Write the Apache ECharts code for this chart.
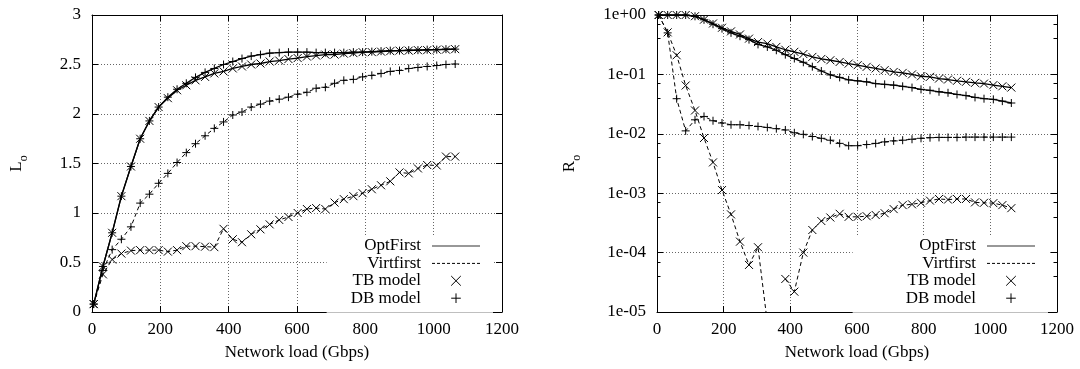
<!DOCTYPE html>
<html><head><meta charset="utf-8">
<script src="https://cdn.jsdelivr.net/npm/echarts@6/dist/echarts.min.js"></script>
<style>html,body{margin:0;padding:0;background:#fff}#c{width:1080px;height:369px}</style>
</head><body><div id="c"></div>
<script>
// ---- data ----
const loads = [5,32,59,86,114,141,168,195,222,249,276,303,331,358,385,412,439,466,493,520,548,575,602,629,656,683,710,737,765,792,819,846,873,900,927,954,981,1009,1036,1063];
const xTicks = [0,200,400,600,800,1000,1200];
const lTicks = [0,0.5,1,1.5,2,2.5,3];
const rTicks = [1e-5,1e-4,1e-3,1e-2,1e-1,1];
const rTickLabels = ['1e-05','1e-04','1e-03','1e-02','1e-01','1e+00'];
const legendNames = ['OptFirst','Virtfirst','TB model','DB model'];

const L_opt_tb = [0.08,0.46,0.80,1.17,1.47,1.75,1.93,2.07,2.16,2.24,2.29,2.34,2.375,2.41,2.43,2.46,2.48,2.50,2.51,2.53,2.54,2.555,2.565,2.58,2.59,2.60,2.60,2.61,2.615,2.625,2.625,2.63,2.635,2.64,2.64,2.645,2.645,2.65,2.65,2.655];
const L_opt_db = [0.08,0.46,0.80,1.17,1.47,1.75,1.93,2.07,2.17,2.25,2.31,2.37,2.42,2.46,2.50,2.53,2.56,2.585,2.60,2.615,2.62,2.625,2.625,2.625,2.62,2.62,2.62,2.62,2.625,2.625,2.63,2.635,2.64,2.64,2.645,2.645,2.65,2.65,2.655,2.655];
const L_virt_tb = [0.08,0.38,0.53,0.59,0.62,0.625,0.625,0.625,0.61,0.625,0.665,0.665,0.66,0.655,0.84,0.735,0.705,0.785,0.835,0.885,0.93,0.96,1.00,1.04,1.05,1.04,1.105,1.14,1.17,1.20,1.24,1.28,1.32,1.41,1.40,1.45,1.485,1.48,1.57,1.57];
const L_virt_db = [0.08,0.42,0.63,0.735,0.86,1.10,1.19,1.30,1.40,1.51,1.61,1.70,1.78,1.855,1.92,1.99,2.02,2.07,2.10,2.13,2.15,2.17,2.20,2.22,2.26,2.27,2.31,2.34,2.35,2.375,2.39,2.41,2.43,2.44,2.46,2.47,2.48,2.49,2.50,2.505];

const R_opt_tb = [1,1,1,1,0.955,0.835,0.72,0.61,0.53,0.47,0.40,0.35,0.33,0.29,0.26,0.24,0.22,0.197,0.182,0.173,0.162,0.152,0.143,0.134,0.126,0.118,0.110,0.106,0.100,0.093,0.091,0.085,0.082,0.078,0.075,0.072,0.070,0.066,0.063,0.060];
const R_opt_db = [1,1,1,1,0.95,0.83,0.70,0.59,0.50,0.44,0.385,0.32,0.29,0.255,0.215,0.185,0.16,0.135,0.114,0.098,0.089,0.081,0.078,0.075,0.070,0.068,0.066,0.063,0.060,0.056,0.054,0.051,0.049,0.046,0.044,0.041,0.039,0.038,0.0355,0.033];
const R_virt_tb = [1.0,0.51,0.21,0.065,0.0247,0.0085,0.0033,0.00113,4.4e-4,1.53e-4,6.2e-5,1.23e-4,6.6e-6,null,3.6e-5,2.2e-5,1.0e-4,2.4e-4,3.4e-4,3.9e-4,4.5e-4,4.0e-4,4.0e-4,4.1e-4,4.3e-4,4.6e-4,5.4e-4,6.3e-4,6.5e-4,6.9e-4,7.5e-4,8.0e-4,7.8e-4,8.0e-4,8.0e-4,7.0e-4,6.9e-4,6.8e-4,6.3e-4,5.6e-4];
const R_virt_db = [1.0,0.50,0.039,0.0112,0.0172,0.0196,0.0166,0.0152,0.0142,0.0142,0.0138,0.0133,0.0128,0.0122,0.0116,0.0104,0.0098,0.0090,0.0084,0.0078,0.0069,0.0063,0.0063,0.0066,0.0069,0.0073,0.0076,0.0078,0.0081,0.0084,0.0086,0.0087,0.0087,0.0087,0.0088,0.0088,0.0088,0.0088,0.0088,0.0088];

// ---- styling ----
const FONT = 'Liberation Serif';
const CROSS = 'path://M0,0L10,10M10,0L0,10';
const PLUS = 'path://M5,0L5,10M0,5L10,5';
const DASH = [4,3];
const GRIDLINE = {show:true, lineStyle:{color:'#666', width:1, type:[1,2]}};

function pairs(ys){ return loads.map((x,i)=>[x, ys[i]]); }
function ser(name, ys, g, dashed, mark){
  return {type:'line', name:name, xAxisIndex:g*2, yAxisIndex:g*2, data:pairs(ys),
    symbol:mark, symbolSize:8, showSymbol:true, showAllSymbol:true, clip:true,
    lineStyle:{color:'#000', width: dashed?1:1.3, type: dashed?DASH:'solid'},
    itemStyle:{color:'#000', borderColor:'#000', borderWidth:1},
    emphasis:{disabled:true}, silent:true, z:3};
}
function dummy(name, opts){
  return Object.assign({type:'line', name:name, data:[], xAxisIndex:0, yAxisIndex:0, silent:true,
    itemStyle:{color:'#000', borderColor:'#000', borderWidth:1}}, opts);
}
const labelStyle = {fontFamily:FONT, fontSize:17, color:'#000'};
const tick = {show:true, inside:true, length:6, lineStyle:{color:'#000', width:1}};
const axisLine = {show:true, onZero:false, lineStyle:{color:'#000', width:1}};

function xAx(g, top){
  const a = {gridIndex:g, type:'value', min:xTicks[0], max:xTicks[xTicks.length-1], interval:xTicks[1]-xTicks[0],
    position: top?'top':'bottom', axisLine:axisLine, axisTick:tick, splitLine: top?{show:false}:GRIDLINE,
    axisLabel: top?{show:false}:Object.assign({margin:9, formatter:function(v){
      const i = xTicks.indexOf(v); return i>=0 ? String(xTicks[i]) : ''; }}, labelStyle)};
  if(!top){ a.name='Network load (Gbps)'; a.nameLocation='middle'; a.nameGap=32; a.nameTextStyle=labelStyle; }
  return a;
}
function yName(letter, gap){
  return {name:'{l|'+letter+'}{s|o}', nameLocation:'middle', nameRotate:90, nameGap:gap,
    nameTextStyle:{fontFamily:FONT, fontSize:17, color:'#000', rich:{
      l:{fontFamily:FONT, fontSize:17, color:'#000', verticalAlign:'bottom', padding:[0,0,5,0]},
      s:{fontFamily:FONT, fontSize:12, color:'#000', verticalAlign:'bottom'}}}};
}
function yLin(mirror){
  const a = {gridIndex:0, type:'value', min:lTicks[0], max:lTicks[lTicks.length-1], interval:lTicks[1]-lTicks[0],
    position: mirror?'right':'left', axisLine:axisLine, axisTick:tick, splitLine: mirror?{show:false}:GRIDLINE,
    axisLabel: mirror?{show:false}:Object.assign({margin:11, formatter:function(v){ return String(v); }}, labelStyle)};
  return mirror ? a : Object.assign(a, yName('L', 62));
}
function yLog(mirror){
  const a = {gridIndex:1, type:'log', logBase:10, min:rTicks[0], max:rTicks[rTicks.length-1],
    position: mirror?'right':'left', axisLine:axisLine, axisTick:tick,
    minorTick:{show:true, splitNumber:3, length:3.5, lineStyle:{color:'#000'}},
    splitLine: mirror?{show:false}:GRIDLINE,
    axisLabel: mirror?{show:false}:Object.assign({margin:11, formatter:function(v){
      const e = Math.round(Math.log10(v)); const i = rTicks.findIndex(t=>Math.round(Math.log10(t))===e);
      return i>=0 ? rTickLabels[i] : ''; }}, labelStyle)};
  return mirror ? a : Object.assign(a, yName('R', 74));
}
function legend(right, padLeft){
  return {show:true, orient:'vertical', align:'right', right:right, top:236,
    padding:[1.5, 12, 6, padLeft], backgroundColor:'#fff', itemWidth:48, itemHeight:12, itemGap:0.4,
    selectedMode:false, textStyle:{fontFamily:FONT, fontSize:17, color:'#000', lineHeight:17, padding:[0,6,0,0]},
    data: legendNames.map((n,i)=>({name:n,
      lineStyle: i===0 ? {width:1.2, color:'#333'} : (i===1 ? {width:1, color:'#000', type:[3,2]} : {opacity:0}),
      itemStyle: i<2 ? {opacity:0} : {color:'#000', borderColor:'#000', borderWidth:1}}))};
}

const option = {
  animation:false,
  backgroundColor:'#fff',
  grid:[{left:92, right:578, top:15, bottom:57, containLabel:false},
        {left:657, right:23, top:15, bottom:57, containLabel:false}],
  xAxis:[xAx(0,false), xAx(0,true), xAx(1,false), xAx(1,true)],
  yAxis:[yLin(false), yLin(true), yLog(false), yLog(true)],
  legend:[legend(1080-493, 24), legend(1080-1048, 53)],
  series:[
    ser('OptFirst TB L', L_opt_tb, 0, false, CROSS),
    ser('OptFirst DB L', L_opt_db, 0, false, PLUS),
    ser('Virtfirst TB L', L_virt_tb, 0, true, CROSS),
    ser('Virtfirst DB L', L_virt_db, 0, true, PLUS),
    ser('OptFirst TB R', R_opt_tb, 1, false, CROSS),
    ser('OptFirst DB R', R_opt_db, 1, false, PLUS),
    ser('Virtfirst TB R', R_virt_tb, 1, true, CROSS),
    ser('Virtfirst DB R', R_virt_db, 1, true, PLUS),
    dummy('OptFirst', {symbol:'none', lineStyle:{color:'#000', width:1.3, type:'solid'}}),
    dummy('Virtfirst', {symbol:'none', lineStyle:{color:'#000', width:1, type:DASH}}),
    dummy('TB model', {symbol:CROSS, symbolSize:8, lineStyle:{color:'#000', opacity:0}}),
    dummy('DB model', {symbol:PLUS, symbolSize:8, lineStyle:{color:'#000', opacity:0}})
  ]
};
const chart = echarts.init(document.getElementById('c'), null, {renderer:'canvas'});
chart.setOption(option);
</script></body></html>
